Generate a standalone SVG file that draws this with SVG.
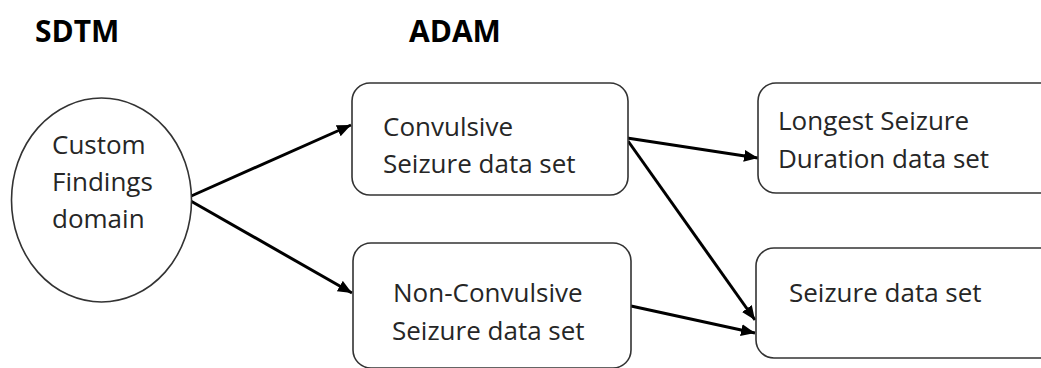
<svg xmlns="http://www.w3.org/2000/svg" width="1041" height="368" viewBox="0 0 1041 368">
  <style>
    .t { font-family: "Open Sans", "Liberation Sans", sans-serif; font-size: 26px; fill: #262626; }
    .h { font-family: "Open Sans", "Liberation Sans", sans-serif; font-size: 30px; font-weight: bold; fill: #000; }
    .box { fill: #fff; stroke: #333; stroke-width: 1.6; }
    .edge { stroke: #000; stroke-width: 3; fill: none; marker-end: url(#arr); }
  </style>
  <defs>
    <marker id="arr" markerUnits="userSpaceOnUse" markerWidth="16" markerHeight="14" refX="14" refY="6" orient="auto">
      <path d="M0,0 L14,6 L0,12 Z" fill="#000"/>
    </marker>
  </defs>
  <rect width="1041" height="368" fill="#fff"/>

  <g id="header-sdtm"><text class="h" x="35" y="42">SDTM</text></g>
  <g id="header-adam"><text class="h" x="409" y="42">ADAM</text></g>

  <g id="connectors">
    <line class="edge" x1="189" y1="197" x2="351" y2="125"/>
    <line class="edge" x1="189" y1="200" x2="352" y2="293"/>
    <line class="edge" x1="627" y1="138" x2="758" y2="158"/>
    <line class="edge" x1="628" y1="141" x2="755" y2="320"/>
    <line class="edge" x1="631" y1="306" x2="755" y2="333"/>
  </g>

  <g id="node-custom-findings">
    <ellipse class="box" cx="101.5" cy="200" rx="90" ry="102"/>
    <text class="t" x="52" y="154">Custom</text>
    <text class="t" x="52" y="191">Findings</text>
    <text class="t" x="52" y="228">domain</text>
  </g>

  <g id="node-convulsive">
    <rect class="box" x="352" y="83" width="276" height="112" rx="18" ry="18"/>
    <text class="t" x="383" y="136">Convulsive</text>
    <text class="t" x="383" y="173">Seizure data set</text>
  </g>

  <g id="node-non-convulsive">
    <rect class="box" x="353" y="243" width="278" height="125" rx="18" ry="18"/>
    <text class="t" x="393" y="302">Non-Convulsive</text>
    <text class="t" x="392" y="340">Seizure data set</text>
  </g>

  <g id="node-longest">
    <rect class="box" x="758" y="83" width="300" height="110" rx="18" ry="18"/>
    <text class="t" x="778" y="130">Longest Seizure</text>
    <text class="t" x="778" y="168">Duration data set</text>
  </g>

  <g id="node-seizure">
    <rect class="box" x="756" y="248" width="302" height="110" rx="18" ry="18"/>
    <text class="t" x="789" y="302">Seizure data set</text>
  </g>
</svg>
